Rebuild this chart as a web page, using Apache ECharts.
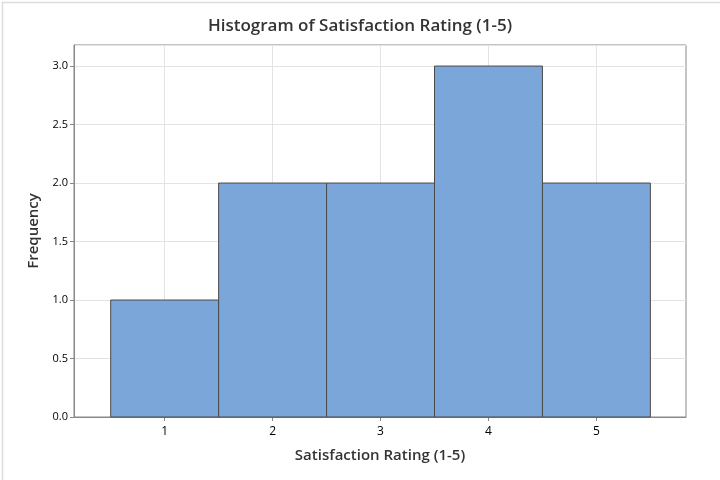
<!DOCTYPE html>
<html>
<head>
<meta charset="utf-8">
<script src="https://cdn.jsdelivr.net/npm/echarts@6/dist/echarts.min.js"></script>
<style>
html,body{margin:0;padding:0;background:#fff;}
#c{width:720px;height:480px;}
</style>
</head>
<body>
<div id="c"></div>
<script>
const binCenters = [1, 2, 3, 4, 5];
const binWidth = 1;
const counts = [1, 2, 2, 3, 2];
const xTicks = [1, 2, 3, 4, 5];
const titleText = 'Histogram of Satisfaction Rating (1-5)';
const xName = 'Satisfaction Rating (1-5)';
const yName = 'Frequency';

const data = binCenters.map((c, i) => [c - binWidth / 2, c + binWidth / 2, counts[i]]);
const FONT = '"Open Sans", "Noto Sans", sans-serif';

const chart = echarts.init(document.getElementById('c'), null, {renderer: 'canvas'});
chart.setOption({
  animation: false,
  backgroundColor: '#fff',
  title: {
    text: titleText, left: 'center', top: 13,
    textStyle: {fontFamily: FONT, fontSize: 17, fontWeight: 600, color: '#333'}
  },
  graphic: [{
    type: 'rect', left: 0, top: 0,
    shape: {x: 0, y: 0, width: 719, height: 479},
    style: {fill: 'none', stroke: '#dcdcdc', lineWidth: 1.5}, silent: true
  }],
  grid: {left: 74, right: 34, top: 45, bottom: 63, show: true, borderColor: '#888', borderWidth: 1},
  xAxis: {
    type: 'value', min: 0.16, max: 5.83,
    name: xName, nameLocation: 'middle', nameGap: 31,
    nameTextStyle: {fontFamily: FONT, fontSize: 15, fontWeight: 600, color: '#333'},
    axisLine: {show: true, lineStyle: {color: '#888'}},
    axisTick: {show: true, length: 4, lineStyle: {color: '#888'}, customValues: xTicks},
    axisLabel: {customValues: xTicks, color: '#000', fontFamily: FONT, fontSize: 12, margin: 9},
    splitLine: {show: true, lineStyle: {color: '#e3e3e3'}}
  },
  yAxis: {
    type: 'value', min: 0, max: 3.18, interval: 0.5,
    name: yName, nameLocation: 'middle', nameGap: 32,
    nameTextStyle: {fontFamily: FONT, fontSize: 15, fontWeight: 600, color: '#333'},
    axisLine: {show: true, lineStyle: {color: '#888'}},
    axisTick: {show: true, length: 4, lineStyle: {color: '#888'}},
    axisLabel: {color: '#000', fontFamily: FONT, fontSize: 11, margin: 6, showMaxLabel: false,
      formatter: v => v.toFixed(1)},
    splitLine: {show: true, lineStyle: {color: '#e3e3e3'}}
  },
  series: [{
    type: 'custom',
    data: data,
    encode: {x: [0, 1], y: 2},
    renderItem: function (params, api) {
      const p0 = api.coord([api.value(0), api.value(2)]);
      const p1 = api.coord([api.value(1), 0]);
      return {
        type: 'rect',
        shape: {x: p0[0], y: p0[1], width: p1[0] - p0[0], height: p1[1] - p0[1]},
        style: {fill: '#7BA6D9', stroke: '#4a4a4a', lineWidth: 1}
      };
    }
  }]
});
</script>
</body>
</html>
